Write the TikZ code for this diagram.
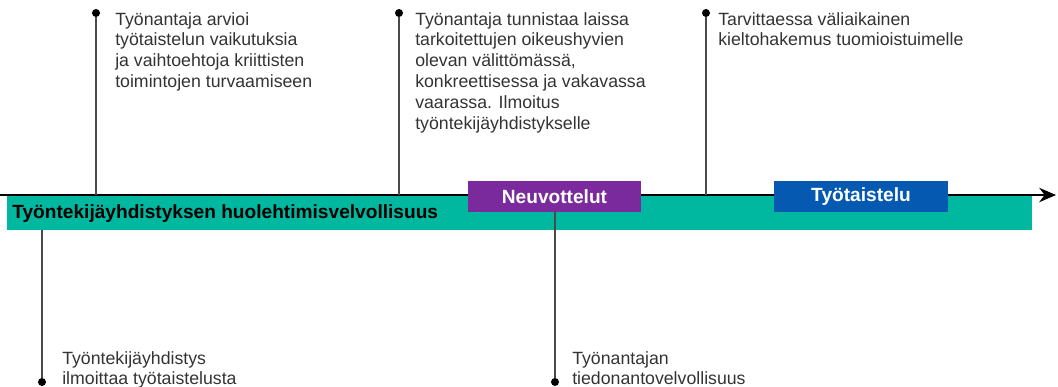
\documentclass[tikz,border=0pt]{standalone}
\usepackage{fontspec}
\setmainfont{Liberation Sans}
\usepackage{xcolor}
\usetikzlibrary{arrows.meta,positioning}

\definecolor{dutyteal}{HTML}{00B89F}
\definecolor{talkpurple}{HTML}{7A2A9C}
\definecolor{strikeblue}{HTML}{0559B1}
\definecolor{notegray}{HTML}{333333}
\definecolor{stemgray}{HTML}{4A4A4A}

\begin{document}
\begin{tikzpicture}[
    x=0.025cm, y=-0.025cm,
    note/.style={anchor=north west, inner sep=0pt, align=left, text=notegray, font=\fontsize{12.6}{14.8}\selectfont},
    phase/.style={rectangle, fill=#1, text=white, font=\fontsize{13.6}{15}\selectfont\bfseries, minimum width=4.325cm, minimum height=0.775cm, inner sep=0pt},
    dot/.style={circle, fill=black, inner sep=0pt, minimum size=0.2cm},
    stem/.style={draw=stemgray, line width=0.9pt},
    axisline/.style={-{Stealth[length=0.42cm,width=0.36cm]}, line width=1.3pt}
]
\useasboundingbox (0,0) rectangle (1058,387);

% Duty bar
\node[rectangle, fill=dutyteal, minimum width=25.625cm, minimum height=0.85cm, inner sep=0pt] (bar) at (519.5,213) {};
\node[anchor=base west, inner sep=0pt, font=\fontsize{13.6}{15}\selectfont\bfseries] (duty) at (12,218) {Työntekijäyhdistyksen huolehtimisvelvollisuus};

% Timeline
\coordinate (axisL) at (0,195);
\coordinate (axisR) at (1056,195);
\draw[axisline] (axisL) -- (axisR);

% Phases
\node[phase=talkpurple] (talks) at (554.5,196.5) {Neuvottelut};
\node[phase=strikeblue] (strike) at (861,196.5) {Työtaistelu};

% Events above
\node[dot] (dotA) at (96,13) {};
\node[dot] (dotB) at (399,13) {};
\node[dot] (dotE) at (706,13) {};
\node[note] (assess) at (115,12) {Työnantaja arvioi\\työtaistelun vaikutuksia\\ja vaihtoehtoja kriittisten\\toimintojen turvaamiseen};
\node[note] (danger) at (415,12) {Työnantaja tunnistaa laissa\\tarkoitettujen oikeushyvien\\olevan välittömässä,\\konkreettisessa ja vakavassa\\vaarassa. Ilmoitus\\työntekijäyhdistykselle};
\node[note] (court) at (718,12) {Tarvittaessa väliaikainen\\kieltohakemus tuomioistuimelle};
\draw[stem] (dotA) -- (dotA |- axisL);
\draw[stem] (dotB) -- (dotB |- axisL);
\draw[stem] (dotE) -- (dotE |- axisL);

% Events below
\node[dot] (dotC) at (42,382) {};
\node[dot] (dotD) at (555,382) {};
\node[note] (notify) at (62,351) {Työntekijäyhdistys\\ilmoittaa työtaistelusta};
\node[note] (inform) at (572,351) {Työnantajan\\tiedonantovelvollisuus};
\draw[stem] (dotC |- bar.south) -- (dotC);
\draw[stem] (dotD |- talks.south) -- (dotD);

\end{tikzpicture}
\end{document}
